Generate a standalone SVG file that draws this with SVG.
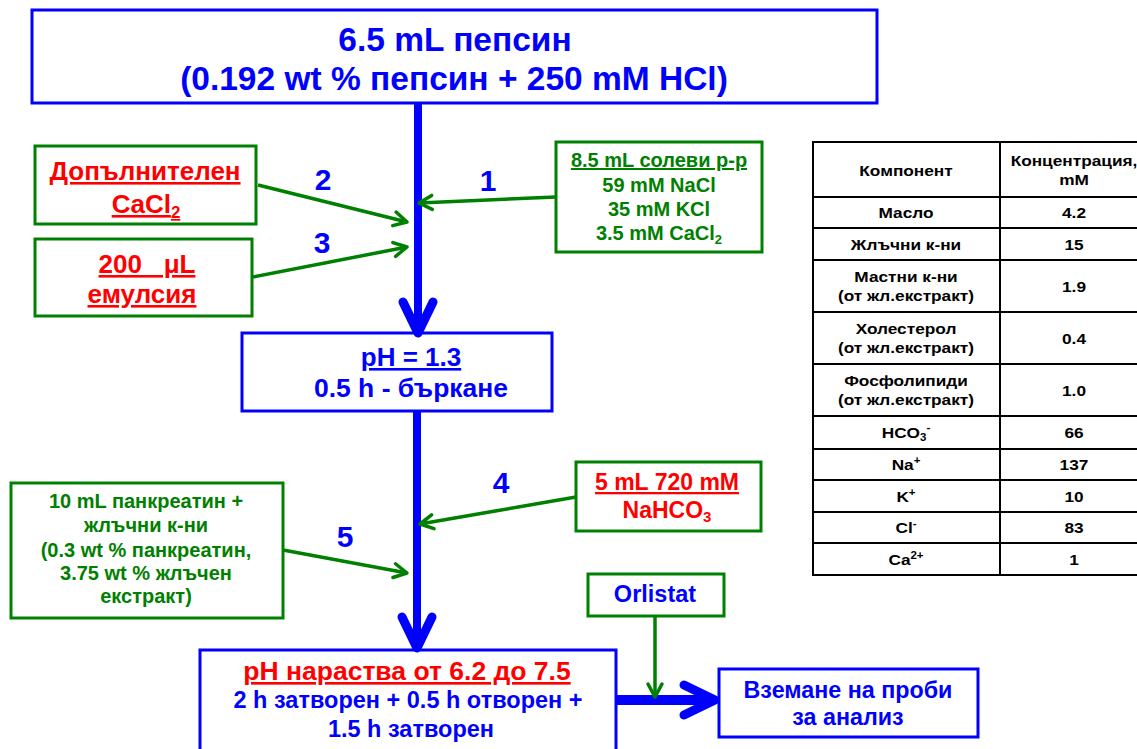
<svg xmlns="http://www.w3.org/2000/svg" width="1137" height="749" viewBox="0 0 1137 749">
<style>
text{font-family:"Liberation Sans",Arial,sans-serif;font-weight:bold;text-anchor:middle}
.bb{fill:none;stroke:#0000FF;stroke-width:3}
.gb{fill:none;stroke:#008000;stroke-width:3}
.blue{fill:#0000FF}
.red{fill:#FF0000}
.green{fill:#008000}
.u{text-decoration:underline}
.num{fill:#0000FF;font-size:30px}
.tb{fill:#000;font-size:15px}
.grid{stroke:#000;stroke-width:2;fill:none}
.ga{stroke:#008000;stroke-width:3.5;fill:none;marker-end:url(#ga)}
.ba{stroke:#0000FF;fill:none;marker-end:url(#ba)}
</style>
<defs>
<marker id="ga" markerUnits="userSpaceOnUse" viewBox="-4 -12 22 24" markerWidth="22" markerHeight="24" refX="13" refY="0" orient="auto" overflow="visible">
<path d="M0,-7 L13,0 L0,7" fill="none" stroke="#008000" stroke-width="3.5" stroke-linecap="round" stroke-linejoin="round"/>
</marker>
<marker id="ba" markerUnits="userSpaceOnUse" viewBox="-6 -22 44 44" markerWidth="44" markerHeight="44" refX="31" refY="0" orient="auto" overflow="visible">
<path d="M0,-15 L31,0 L0,15" fill="none" stroke="#0000FF" stroke-width="9" stroke-linecap="round" stroke-linejoin="round"/>
</marker>
</defs>

<g id="connectors">
<path class="ba" d="M418,103 L418,333" stroke-width="8"/>
<path class="ba" d="M417,411 L417,648" stroke-width="8"/>
<path class="ba" d="M615,700 L715,700" stroke-width="10"/>
<path class="ga" d="M556,197 L419,203"/>
<path class="ga" d="M258,185 L407,222"/>
<path class="ga" d="M253,277 L407,247"/>
<path class="ga" d="M576,497 L420,524"/>
<path class="ga" d="M283,550 L407,573"/>
<path class="ga" d="M655,616 L655,697"/>
</g>

<g id="labels">
<text class="num" x="323" y="190">2</text>
<text class="num" x="488" y="191">1</text>
<text class="num" x="322" y="253">3</text>
<text class="num" x="501" y="493">4</text>
<text class="num" x="345" y="547">5</text>
</g>

<g id="n-pepsin">
<rect class="bb" x="32" y="10" width="845" height="93"/>
<text class="blue" x="455" y="51" font-size="33.5">6.5 mL пепсин</text>
<text class="blue" x="454" y="90" font-size="33.5">(0.192 wt % пепсин + 250 mM HCl)</text>
</g>

<g id="n-cacl2">
<rect class="gb" x="35" y="146" width="221" height="78"/>
<text class="red u" x="145" y="180" font-size="26">Допълнителен</text>
<text class="red u" x="146" y="213" font-size="26">CaCl<tspan font-size="17" dy="5">2</tspan></text>
</g>

<g id="n-emulsion">
<rect class="gb" x="35" y="239" width="217" height="77"/>
<text class="red u" x="147" y="273" font-size="26">200&#160;&#160; μL</text>
<text class="red u" x="142" y="303" font-size="26">емулсия</text>
</g>

<g id="n-saline">
<rect class="gb" x="556" y="142" width="206" height="110"/>
<text class="green u" x="659" y="167" font-size="20">8.5 mL солеви р-р</text>
<text class="green" x="659" y="192" font-size="20">59 mM NaCl</text>
<text class="green" x="659" y="216" font-size="20">35 mM KCl</text>
<text class="green" x="659" y="240" font-size="20">3.5 mM CaCl<tspan font-size="13" dy="4">2</tspan></text>
</g>

<g id="n-ph13">
<rect class="bb" x="242" y="333" width="310" height="78"/>
<text class="blue u" x="411" y="366" font-size="26">pH = 1.3</text>
<text class="blue" x="411" y="397" font-size="26.5">0.5 h - бъркане</text>
</g>

<g id="n-nahco3">
<rect class="gb" x="576" y="462" width="185" height="69"/>
<text class="red u" x="667" y="490" font-size="23">5 mL 720 mM</text>
<text class="red" x="667" y="518" font-size="23">NaHCO<tspan font-size="15" dy="4">3</tspan></text>
</g>

<g id="n-pancreatin">
<rect class="gb" x="11" y="483" width="272" height="135"/>
<text class="green" x="146" y="508" font-size="20">10 mL панкреатин +</text>
<text class="green" x="146" y="532" font-size="20">жлъчни к-ни</text>
<text class="green" x="146" y="557" font-size="20">(0.3 wt %  панкреатин,</text>
<text class="green" x="146" y="580" font-size="20">3.75 wt %  жлъчен</text>
<text class="green" x="146" y="603" font-size="20">екстракт)</text>
</g>

<g id="n-orlistat">
<rect class="gb" x="588" y="574" width="136" height="42"/>
<text class="blue" x="655" y="602" font-size="23.5">Orlistat</text>
</g>

<g id="n-final">
<rect class="bb" x="200" y="650" width="416" height="110"/>
<text class="red u" x="407" y="680" font-size="26.5">pH нараства  от 6.2 до 7.5</text>
<text class="blue" x="408" y="708" font-size="23.5">2 h затворен + 0.5 h отворен +</text>
<text class="blue" x="411" y="737" font-size="23.5">1.5 h затворен</text>
</g>

<g id="n-sampling">
<rect class="bb" x="719" y="669" width="259" height="68"/>
<text class="blue" x="848" y="698" font-size="23.3">Вземане на проби</text>
<text class="blue" x="848" y="725" font-size="23.3">за анализ</text>
</g>

<g id="table">
<rect class="grid" x="813" y="142" width="340" height="433"/>
<path class="grid" d="M1000,142 V575 M813,197 H1140 M813,228 H1140 M813,260 H1140 M813,312 H1140 M813,364 H1140 M813,416 H1140 M813,449 H1140 M813,480 H1140 M813,512 H1140 M813,543 H1140"/>
<g transform="translate(906,0) scale(1.15,1)">
<text class="tb" x="0" y="176">Компонент</text>
<text class="tb" x="0" y="218">Масло</text>
<text class="tb" x="0" y="250">Жлъчни к-ни</text>
<text class="tb" x="0" y="282">Мастни к-ни</text><text class="tb" x="0" y="301">(от жл.екстракт)</text>
<text class="tb" x="0" y="334">Холестерол</text><text class="tb" x="0" y="353">(от жл.екстракт)</text>
<text class="tb" x="0" y="386">Фосфолипиди</text><text class="tb" x="0" y="405">(от жл.екстракт)</text>
<text class="tb" x="0" y="438">HCO<tspan font-size="10" dy="3">3</tspan><tspan font-size="10" dy="-10">-</tspan></text>
<text class="tb" x="0" y="470">Na<tspan font-size="10" dy="-6">+</tspan></text>
<text class="tb" x="0" y="502">K<tspan font-size="10" dy="-6">+</tspan></text>
<text class="tb" x="0" y="533">Cl<tspan font-size="10" dy="-6">-</tspan></text>
<text class="tb" x="0" y="565">Ca<tspan font-size="10" dy="-6">2+</tspan></text>
</g>
<g transform="translate(1074,0) scale(1.15,1)">
<text class="tb" x="0" y="166">Концентрация,</text>
<text class="tb" x="0" y="185">mM</text>
<text class="tb" x="0" y="218">4.2</text>
<text class="tb" x="0" y="250">15</text>
<text class="tb" x="0" y="292">1.9</text>
<text class="tb" x="0" y="344">0.4</text>
<text class="tb" x="0" y="396">1.0</text>
<text class="tb" x="0" y="438">66</text>
<text class="tb" x="0" y="470">137</text>
<text class="tb" x="0" y="502">10</text>
<text class="tb" x="0" y="533">83</text>
<text class="tb" x="0" y="565">1</text>
</g>
</g>
</svg>
